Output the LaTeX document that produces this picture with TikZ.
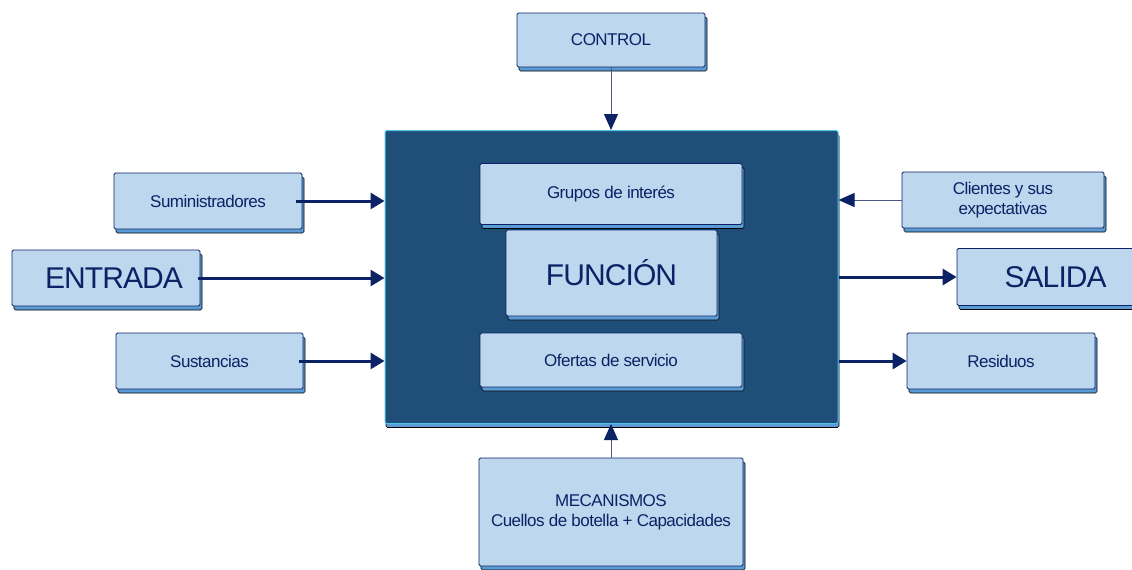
\documentclass[tikz,border=0pt]{standalone}
\usepackage{fontspec}
\setmainfont{Liberation Sans}
\newfontfamily\tightfont[LetterSpace=-3]{Liberation Sans}
\usetikzlibrary{arrows.meta,shadows}
\definecolor{navy}{HTML}{0B2265}
\definecolor{lblue}{HTML}{BDD7EE}
\definecolor{mblue}{HTML}{5B9BD5}
\definecolor{dblue}{HTML}{1F4E79}
\definecolor{cyanedge}{HTML}{4FC3E8}
\definecolor{thinline}{HTML}{4A5A85}
\tikzset{
  lbox/.style={draw=navy, line width=0.8pt, fill=lblue, rounded corners=1.5pt,
    text=navy, align=center, inner sep=0pt,
    drop shadow={shadow xshift=2pt, shadow yshift=-4pt, fill=mblue, draw=black, line width=0.6pt, opacity=1}},
  mainbox/.style={draw=cyanedge, line width=1pt, fill=dblue, rounded corners=1.5pt,
    drop shadow={shadow xshift=1pt, shadow yshift=-4pt, fill=mblue, draw=black, line width=0.6pt, opacity=1}},
  thickarrow/.style={draw=navy, line width=3pt, -{Triangle[length=14pt,width=16pt]}},
  thinarrow/.style={draw=thinline, line width=1pt, -{Triangle[length=16pt,width=14pt,fill=navy,color=navy]}},
  smalltxt/.style={font=\tightfont\fontsize{17}{20}\selectfont},
  bigtxt/.style={font=\tightfont\fontsize{30}{32}\selectfont},
}
\begin{document}
\begin{tikzpicture}[x=1pt,y=-1pt]
\useasboundingbox[fill=white] (0,0) rectangle (1132,570);
% main box
\node[mainbox, minimum width=453pt, minimum height=293pt] (main) at (611.5,277) {};
% inner boxes
\node[lbox, smalltxt, minimum width=262pt, minimum height=61pt] (grupos) at (611,194) {Grupos de interés};
\node[lbox, bigtxt, minimum width=211pt, minimum height=86pt] (funcion) at (611.5,273) {FUNCIÓN};
\node[lbox, smalltxt, minimum width=262pt, minimum height=54pt] (ofertas) at (611,360) {Ofertas de servicio};
% top / bottom
\node[lbox, smalltxt, minimum width=188pt, minimum height=54pt] (control) at (611,40) {CONTROL};
\node[lbox, smalltxt, minimum width=264pt, minimum height=108pt] (mec) at (611,512) {MECANISMOS\\Cuellos de botella + Capacidades};
% left
\node[lbox, smalltxt, minimum width=188pt, minimum height=56pt] (sumin) at (208,201) {Suministradores};
\node[lbox, bigtxt, minimum width=188pt, minimum height=56pt] (entrada) at (106,278) {\hspace*{16pt}ENTRADA};
\node[lbox, smalltxt, minimum width=187pt, minimum height=56pt] (sust) at (209.5,361) {Sustancias};
% right
\node[lbox, smalltxt, minimum width=202pt, minimum height=56pt] (clientes) at (1003,200) {Clientes y sus\\expectativas};
\node[lbox, bigtxt, minimum width=195pt, minimum height=57pt, text width=180pt, align=left] (salida) at (1054.5,277) {\hspace*{40pt}SALIDA};
\node[lbox, smalltxt, minimum width=188pt, minimum height=56pt] (resid) at (1001,361) {Residuos};
% connectors
\draw[thinarrow] (control.south) -- (main.north -| control.south);
\draw[thinarrow] (mec.north) -- (main.south -| mec.north);
\draw[thickarrow] ([xshift=-6pt]sumin.east) -- (main.west |- sumin.east);
\draw[thickarrow] ([xshift=-2pt]entrada.east) -- (main.west |- entrada.east);
\draw[thickarrow] ([xshift=-4pt]sust.east) -- (main.west |- sust.east);
\draw[thinarrow] (clientes.west) -- (main.east |- clientes.west);
\draw[thickarrow] (main.east |- salida.west) -- (salida.west);
\draw[thickarrow] (main.east |- resid.west) -- (resid.west);
\end{tikzpicture}
\end{document}
